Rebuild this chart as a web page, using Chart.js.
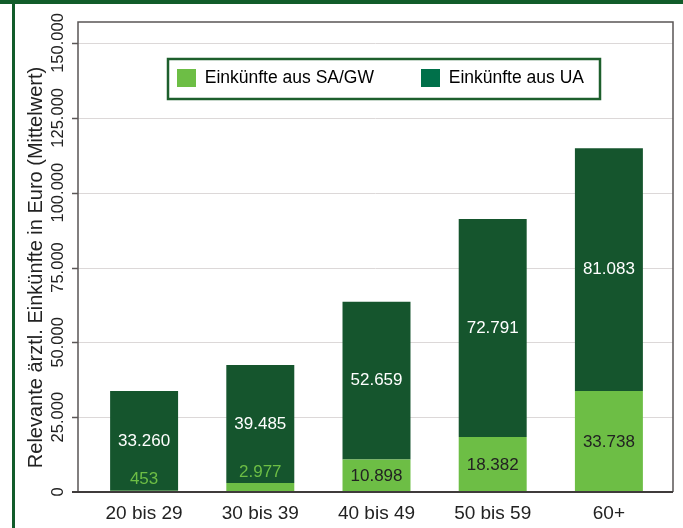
<!DOCTYPE html>
<html>
<head>
<meta charset="utf-8">
<script src="https://cdn.jsdelivr.net/npm/chart.js@4/dist/chart.umd.min.js"></script>
<style>
html,body{margin:0;padding:0;background:#fff;}
#wrap{position:relative;width:683px;height:528px;}
canvas{display:block;}
</style>
</head>
<body>
<div id="wrap"><canvas id="c" width="683" height="528"></canvas></div>
<script>
const categories = ['20 bis 29', '30 bis 39', '40 bis 49', '50 bis 59', '60+'];
const seriesNames = ['Einkünfte aus SA/GW', 'Einkünfte aus UA'];
const saGw = [453, 2977, 10898, 18382, 33738];
const ua = [33260, 39485, 52659, 72791, 81083];
const yTicks = [0, 25000, 50000, 75000, 100000, 125000, 150000];
const yTitle = 'Relevante ärztl. Einkünfte in Euro (Mittelwert)';

const COL_DARK = '#15552d';
const COL_LIGHT = '#6dbe45';
const COL_LEGEND_UA = '#00704a';
const COL_FRAME = '#115c2a';
const TEXT = '#222222';

function fmt(v) { return String(v).replace(/\B(?=(\d{3})+(?!\d))/g, '.'); }

Chart.defaults.font.family = "'Liberation Sans', Arial, Helvetica, sans-serif";

const framePlugin = {
  id: 'frame',
  beforeLayout(chart) {
    const lg = chart.legend;
    if (lg && !lg._patched) {
      const f = lg.fit;
      lg.fit = function () { f.call(this); this.height = 0; };
      lg._patched = true;
    }
  },
  afterLayout(chart) {
    const lg = chart.legend;
    if (!lg) return;
    const pad = lg.options.labels.padding;
    const lw = lg.lineWidths ? lg.lineWidths[0] : 0;
    lg.left = 177 - pad;
    lg.right = 177 + lw;
    lg.width = lg.right - lg.left;
    lg.top = 69 - pad;
    lg.bottom = lg.top + 2 * pad + 18;
    lg.height = lg.bottom - lg.top;
  },
  beforeDraw(chart) {
    const ctx = chart.ctx;
    ctx.save();
    ctx.fillStyle = '#ffffff';
    ctx.fillRect(0, 0, chart.width, chart.height);
    ctx.fillStyle = COL_FRAME;
    ctx.fillRect(0, 0, chart.width, 4);
    ctx.fillRect(12, 0, 3, chart.height);
    ctx.restore();
  },
  beforeDatasetsDraw(chart) {
    const ctx = chart.ctx, ca = chart.chartArea, ys = chart.scales.y;
    const L = ca.left - 8, R = ca.right + 6;
    ctx.save();
    ctx.strokeStyle = '#dcd8d8';
    ctx.lineWidth = 1;
    yTicks.forEach(v => {
      if (v === 0) return;
      const y = Math.round(ys.getPixelForValue(v)) + 0.5;
      ctx.beginPath(); ctx.moveTo(L, y); ctx.lineTo(R, y); ctx.stroke();
    });
    ctx.strokeStyle = '#1d5f2c';
    ctx.lineWidth = 2.5;
    ctx.strokeRect(168, 59, 432, 40);
    ctx.restore();
  },
  afterDatasetsDraw(chart) {
    const ctx = chart.ctx, ca = chart.chartArea, ys = chart.scales.y;
    const L = ca.left - 8, R = ca.right + 6;
    const T = ys.getPixelForValue(150000) - 21;
    const B = ys.getPixelForValue(0);
    ctx.save();
    ctx.textAlign = 'center';
    ctx.textBaseline = 'middle';
    ctx.font = "17px 'Liberation Sans', Arial, sans-serif";
    const m0 = chart.getDatasetMeta(0), m1 = chart.getDatasetMeta(1);
    m1.data.forEach((bar, i) => {
      ctx.fillStyle = '#ffffff';
      ctx.fillText(fmt(ua[i]), bar.x, (bar.y + bar.base) / 2);
    });
    m0.data.forEach((bar, i) => {
      const h = bar.base - bar.y;
      if (h > 24) {
        ctx.fillStyle = TEXT;
        ctx.fillText(fmt(saGw[i]), bar.x, (bar.y + bar.base) / 2 + 1);
      } else {
        ctx.fillStyle = COL_LIGHT;
        ctx.fillText(fmt(saGw[i]), bar.x, bar.y - 11);
      }
    });
    ctx.strokeStyle = '#5a5656';
    ctx.lineWidth = 1.5;
    ctx.beginPath();
    ctx.moveTo(L, B); ctx.lineTo(L, T); ctx.lineTo(R, T); ctx.lineTo(R, B);
    ctx.stroke();
    ctx.strokeStyle = '#3f3b3b';
    ctx.lineWidth = 2;
    ctx.beginPath(); ctx.moveTo(L - 6, B); ctx.lineTo(R, B); ctx.stroke();
    ctx.lineWidth = 1.5;
    ctx.strokeStyle = '#5a5656';
    yTicks.forEach(v => {
      if (v === 0) return;
      const y = Math.round(ys.getPixelForValue(v)) + 0.5;
      ctx.beginPath(); ctx.moveTo(L - 6, y); ctx.lineTo(L, y); ctx.stroke();
    });
    ctx.restore();
  }
};

new Chart(document.getElementById('c'), {
  type: 'bar',
  data: {
    labels: categories,
    datasets: [
      { label: seriesNames[0], data: saGw, backgroundColor: COL_LIGHT, borderWidth: 0,
        barPercentage: 0.585, categoryPercentage: 1 },
      { label: seriesNames[1], data: ua, backgroundColor: COL_DARK, borderWidth: 0,
        barPercentage: 0.585, categoryPercentage: 1 }
    ]
  },
  options: {
    responsive: false,
    animation: false,
    layout: { padding: { left: 0, right: 16, top: 43, bottom: 0 } },
    plugins: {
      tooltip: { enabled: false },
      legend: {
        position: 'top',
        align: 'center',
        labels: {
          boxWidth: 19,
          boxHeight: 18,
          padding: 47,
          color: TEXT,
          font: { size: 17.5 },
          generateLabels: () => seriesNames.map((n, i) => ({
            text: n,
            fillStyle: i === 0 ? COL_LIGHT : COL_LEGEND_UA,
            strokeStyle: i === 0 ? COL_LIGHT : COL_LEGEND_UA,
            lineWidth: 0,
            hidden: false,
            datasetIndex: i
          }))
        }
      }
    },
    scales: {
      x: {
        stacked: true,
        grid: { display: false },
        border: { display: false },
        afterFit: s => { s.height = 36; },
        ticks: { padding: 2, color: TEXT, font: { size: 19 }, maxRotation: 0, minRotation: 0 }
      },
      y: {
        stacked: true,
        min: 0,
        max: 150000,
        afterBuildTicks: s => { s.ticks = yTicks.map(v => ({ value: v })); },
        afterFit: s => { s.width = 86; },
        grid: { display: false },
        border: { display: false },
        ticks: {
          minRotation: 90, maxRotation: 90, crossAlign: 'center', padding: -10,
          autoSkip: false, color: TEXT, font: { size: 16.5 },
          callback: v => fmt(v)
        },
        title: {
          display: true, text: yTitle, color: TEXT, font: { size: 20 },
          padding: { top: 24, bottom: 0 }
        }
      }
    }
  },
  plugins: [framePlugin]
});
</script>
</body>
</html>
